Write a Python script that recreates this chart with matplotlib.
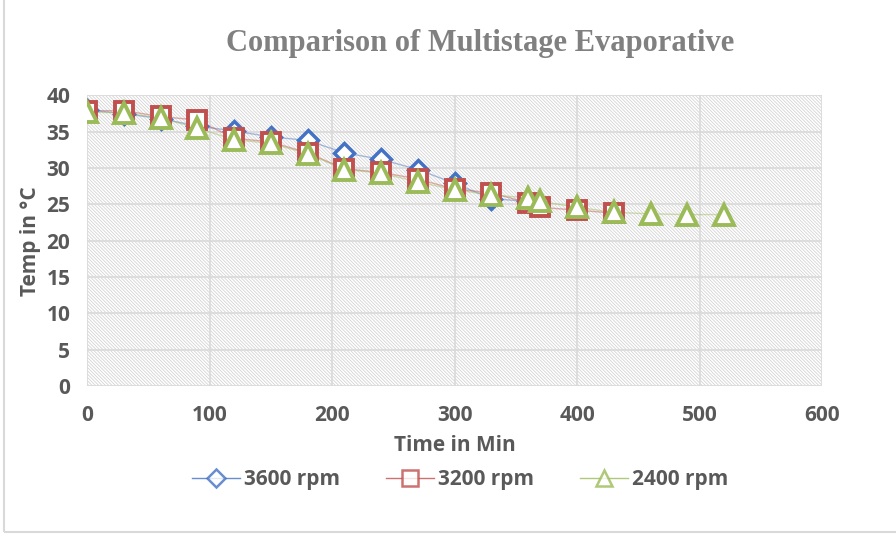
import matplotlib
matplotlib.use("Agg")
import matplotlib.pyplot as plt
from matplotlib.patches import Rectangle

# data
t_3600 = [0, 30, 60, 90, 120, 150, 180, 210, 240, 270, 300, 330, 360]
temp_3600 = [38.0, 37.5, 36.8, 35.8, 35.1, 34.3, 33.8, 32.1, 31.2, 29.8, 27.9, 25.8, 25.4]

t_3200 = [0, 30, 60, 90, 120, 150, 180, 210, 240, 270, 300, 330, 360, 370, 400, 430]
temp_3200 = [37.9, 37.9, 37.1, 36.6, 34.1, 33.6, 32.1, 29.9, 29.4, 28.5, 27.1, 26.6, 25.2, 24.6, 24.2, 23.8]

t_2400 = [0, 30, 60, 90, 120, 150, 180, 210, 240, 270, 300, 330, 360, 370, 400, 430, 460, 490, 520]
temp_2400 = [37.7, 37.6, 36.9, 35.5, 33.9, 33.4, 32.0, 29.8, 29.3, 28.1, 27.0, 26.3, 25.9, 25.4, 24.6, 23.9, 23.7, 23.6, 23.6]

series_names = ['3600 rpm', '3200 rpm', '2400 rpm']
x_ticks = [0, 100, 200, 300, 400, 500, 600]
y_ticks = [0, 5, 10, 15, 20, 25, 30, 35, 40]

TXT = '#595959'
plt.rcParams['font.family'] = ['Open Sans', 'DejaVu Sans']
plt.rcParams['hatch.linewidth'] = 0.6
plt.rcParams['hatch.color'] = '#d4d4d4'

fig = plt.figure(figsize=(8.96, 5.35), dpi=100)
# chart border (light gray frame)
fig.patches.append(Rectangle((4 / 896, 3 / 535), 1.0, 1.0, transform=fig.transFigure,
                             fill=False, edgecolor='#d9d9d9', linewidth=1.5))

ax = fig.add_axes([87 / 896, 149 / 535, 735 / 896, 290.6 / 535])

# hatched plot area
ax.add_patch(Rectangle((0, 0), 1, 1, transform=ax.transAxes, facecolor='white',
                       edgecolor='#d4d4d4', hatch='\\' * 10, linewidth=0, zorder=0))

ax.set_xlim(0, 600)
ax.set_ylim(0, 40)
ax.set_xticks(x_ticks)
ax.set_yticks(y_ticks)
ax.grid(True, color='#d9d9d9', linewidth=1.2, zorder=1)
for s in ax.spines.values():
    s.set_visible(False)
ax.tick_params(axis='y', length=0, labelsize=15, labelcolor=TXT, pad=12)
ax.tick_params(axis='x', length=0, labelsize=15, labelcolor=TXT, pad=14)
for lab in ax.get_xticklabels() + ax.get_yticklabels():
    lab.set_fontweight('bold')

ax.plot(t_3600, temp_3600, color='#4472C4', alpha=0.45, lw=1, zorder=2)
ax.plot(t_3200, temp_3200, color='#C0504D', alpha=0.45, lw=1, zorder=2)
ax.plot(t_2400, temp_2400, color='#9BBB59', alpha=0.45, lw=1, zorder=2)
ax.plot(t_3600, temp_3600, ls='none', marker='D', ms=10, mfc='white', mec='#4472C4', mew=2.5, zorder=3)
ax.plot(t_3200, temp_3200, ls='none', marker='s', ms=13, mfc='white', mec='#C0504D', mew=2.8, zorder=4)
ax.plot(t_2400, temp_2400, ls='none', marker='^', ms=14, mfc='white', mec='#9BBB59', mew=2.8, zorder=5)

# legend handles
h1, = ax.plot([], [], color='#4472C4', lw=1, alpha=0.8, marker='D', ms=9, mfc='white', mec='#4472C4', mew=1.8)
h2, = ax.plot([], [], color='#C0504D', lw=1, alpha=0.8, marker='s', ms=12, mfc='white', mec='#C0504D', mew=1.8)
h3, = ax.plot([], [], color='#9BBB59', lw=1, alpha=0.8, marker='^', ms=12, mfc='white', mec='#9BBB59', mew=1.8)
leg = fig.legend([h1, h2, h3], series_names, loc='center', bbox_to_anchor=(460 / 896, 1 - 480 / 535),
                 ncol=3, frameon=False, handlelength=2.3, columnspacing=2.2, handletextpad=0.2,
                 prop={'size': 15, 'weight': 'bold'})
for t in leg.get_texts():
    t.set_color(TXT)

ax.set_xlabel('Time in Min', fontsize=15, fontweight='bold', color=TXT, labelpad=6)
ax.set_ylabel('Temp in °C', fontsize=15, fontweight='bold', color=TXT, labelpad=4)
fig.text(480 / 896, 1 - 44 / 535, 'Comparison of Multistage Evaporative', ha='center', va='center',
         fontsize=22, fontweight='bold', color='#808080', family=['Liberation Serif', 'DejaVu Serif'])

fig.savefig('out.png', dpi=100)
